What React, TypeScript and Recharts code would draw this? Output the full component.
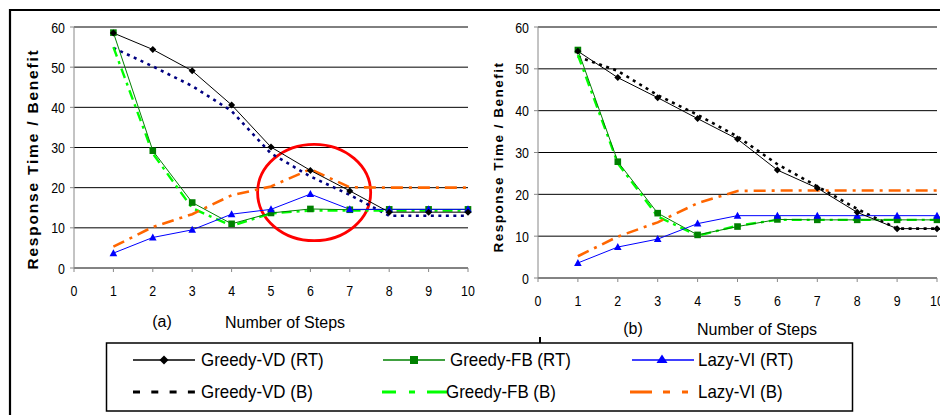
import { LineChart, Line, XAxis, YAxis, CartesianGrid, ReferenceArea } from 'recharts'

const steps = [1, 2, 3, 4, 5, 6, 7, 8, 9, 10]
const xTicks = [0, 1, 2, 3, 4, 5, 6, 7, 8, 9, 10]
const yTicks = [0, 10, 20, 30, 40, 50, 60]

// panel (a)
const aGreedyVdRT = [58.5, 54.4, 49.1, 40.6, 30.1, 24.3, 19.2, 13.9, 13.9, 13.9]
const aGreedyVdB = [54.8, 50.2, 45.3, 39.1, 28.5, 22.8, 18.2, 13.0, 13.0, 13.0]
const aGreedyFbRT = [58.6, 29.2, 16.3, 11.0, 13.7, 14.7, 14.5, 14.6, 14.6, 14.6]
const aGreedyFbB = [55.0, 28.5, 14.9, 10.5, 13.6, 14.3, 14.3, 14.3, 14.3, 14.3]
const aLazyViRT = [3.7, 7.6, 9.5, 13.4, 14.6, 18.4, 14.6, 14.6, 14.6, 14.6]
const aLazyViB = [5.3, 10.2, 13.4, 18.1, 20.3, 24.6, 20.1, 20.0, 20.0, 20.0]

// panel (b)
const bGreedyVdRT = [54.2, 47.9, 43.1, 38.1, 33.2, 25.8, 21.5, 15.7, 11.8, 11.8]
const bGreedyVdB = [52.9, 49.5, 43.7, 39.0, 33.8, 27.2, 21.9, 16.5, 11.8, 11.8]
const bGreedyFbRT = [54.5, 27.8, 15.5, 10.3, 12.3, 14.0, 13.9, 13.9, 13.9, 13.9]
const bGreedyFbB = [53.3, 27.4, 14.7, 10.1, 12.5, 13.9, 13.9, 13.9, 13.9, 13.9]
const bLazyViRT = [3.6, 7.4, 9.3, 13.0, 14.9, 14.9, 14.9, 14.9, 14.9, 14.9]
const bLazyViB = [5.2, 9.9, 13.3, 17.9, 20.8, 20.9, 20.9, 20.9, 20.9, 20.9]

// highlighted region in panel (a): [x1, x2, y1, y2]
const highlight = [4.66, 7.53, 6.8, 30.8]

const legendRT = ['Greedy-VD (RT)', 'Greedy-FB (RT)', 'Lazy-VI (RT)']
const legendB = ['Greedy-VD (B)', 'Greedy-FB (B)', 'Lazy-VI (B)']

const build = (vdRT: number[], vdB: number[], fbRT: number[], fbB: number[], lvRT: number[], lvB: number[]) =>
  steps.map((step, i) => ({
    step,
    vdRT: vdRT[i],
    vdB: vdB[i],
    fbRT: fbRT[i],
    fbB: fbB[i],
    lvRT: lvRT[i],
    lvB: lvB[i],
  }))

const dataA = build(aGreedyVdRT, aGreedyVdB, aGreedyFbRT, aGreedyFbB, aLazyViRT, aLazyViB)
const dataB = build(bGreedyVdRT, bGreedyVdB, bGreedyFbRT, bGreedyFbB, bLazyViRT, bLazyViB)

const SANS = "'Liberation Sans', Arial, sans-serif"

// tick text squeezed horizontally, like the old narrow chart font
const xTick = (p: any) => (
  <text transform={`translate(${p.x},${p.y}) scale(0.8,1)`} textAnchor="middle" dy="0.71em" fontSize={15.5} fontFamily={SANS} fill="#000">
    {p.payload.value}
  </text>
)
const yTick = (p: any) => (
  <text transform={`translate(${p.x},${p.y}) scale(0.8,1)`} textAnchor="end" dy="0.355em" fontSize={15.5} fontFamily={SANS} fill="#000">
    {p.payload.value}
  </text>
)

const diamond = (p: any) => {
  const { cx, cy, index } = p
  return <path key={`dm-${index}`} d={`M${cx},${cy - 3.5}L${cx + 3.5},${cy}L${cx},${cy + 3.5}L${cx - 3.5},${cy}Z`} fill="#000" />
}
const square = (p: any) => {
  const { cx, cy, index } = p
  return <rect key={`sq-${index}`} x={cx - 3.3} y={cy - 3.3} width={6.6} height={6.6} fill="#008000" />
}
const triangle = (p: any) => {
  const { cx, cy, index } = p
  return <path key={`tr-${index}`} d={`M${cx},${cy - 4}L${cx + 3.8},${cy + 3}L${cx - 3.8},${cy + 3}Z`} fill="#0000FF" />
}

interface PanelProps {
  data: any[]
  left: number
  width: number
  axisWidth: number
  bottom: number
  right: number
  vdBColor: string
  circle?: boolean
}

function Panel({ data, left, width, axisWidth, bottom, right, vdBColor, circle }: PanelProps) {
  return (
    <div style={{ position: 'absolute', left, top: 0 }}>
      <LineChart width={width} height={340} data={data} margin={{ top: 27, right, bottom, left: 0 }}>
        <CartesianGrid vertical={false} stroke="#000" strokeWidth={1} />
        <XAxis
          dataKey="step"
          type="number"
          domain={[0, 10]}
          ticks={xTicks}
          interval={0}
          height={40}
          stroke="#888"
          tickSize={4}
          tickMargin={13}
          tick={xTick}
        />
        <YAxis
          type="number"
          domain={[0, 60]}
          ticks={yTicks}
          interval={0}
          width={axisWidth}
          stroke="#888"
          tickSize={4}
          tickMargin={5}
          tick={yTick}
        />
        <Line dataKey="vdB" stroke={vdBColor} strokeWidth={2.6} strokeDasharray="3 4.5" dot={false} isAnimationActive={false} />
        <Line dataKey="fbB" stroke="#00FF00" strokeWidth={2.4} strokeDasharray="10 5 3 5" dot={false} isAnimationActive={false} />
        <Line dataKey="lvB" stroke="#FF6600" strokeWidth={2.6} strokeDasharray="12 6 3 6" dot={false} isAnimationActive={false} />
        <Line dataKey="fbRT" stroke="#008000" strokeWidth={1} dot={square} isAnimationActive={false} />
        <Line dataKey="lvRT" stroke="#0000FF" strokeWidth={1} dot={triangle} isAnimationActive={false} />
        <Line dataKey="vdRT" stroke="#000" strokeWidth={1} dot={diamond} isAnimationActive={false} />
        {circle && (
          <ReferenceArea
            x1={highlight[0]}
            x2={highlight[1]}
            y1={highlight[2]}
            y2={highlight[3]}
            shape={(p: any) => (
              <ellipse
                cx={p.x + p.width / 2}
                cy={p.y + p.height / 2}
                rx={p.width / 2}
                ry={p.height / 2}
                fill="none"
                stroke="#FF0000"
                strokeWidth={2.8}
              />
            )}
          />
        )}
      </LineChart>
    </div>
  )
}

function Legend() {
  const cols = [133, 383, 632]
  const textX = [201, 450, 698]
  return (
    <g>
      <rect x={106.5} y={343} width={746} height={68} fill="#fff" stroke="#000" strokeWidth={1.5} />
      <line x1={540} y1={337} x2={540} y2={343} stroke="#000" strokeWidth={2} />
      {/* row 1: response time */}
      <line x1={cols[0]} y1={360} x2={cols[0] + 62} y2={360} stroke="#000" strokeWidth={1.3} />
      <path d="M164,355.5L168.5,360L164,364.5L159.5,360Z" fill="#000" />
      <line x1={cols[1]} y1={360} x2={cols[1] + 62} y2={360} stroke="#008000" strokeWidth={1.3} />
      <rect x={410} y={356} width={8} height={8} fill="#008000" />
      <line x1={cols[2]} y1={360} x2={cols[2] + 62} y2={360} stroke="#0000FF" strokeWidth={1.3} />
      <path d="M662,354.5L667.5,363L656.5,363Z" fill="#0000FF" />
      {/* row 2: benefit */}
      <line x1={cols[0]} y1={392} x2={cols[0] + 62} y2={392} stroke="#000" strokeWidth={3} strokeDasharray="7 11.3" />
      <line x1={cols[1] - 1} y1={392} x2={cols[1] + 64} y2={392} stroke="#00FF00" strokeWidth={3} strokeDasharray="14 13 6 12 20" />
      <line x1={cols[2] - 2} y1={392} x2={cols[2] + 56} y2={392} stroke="#FF6600" strokeWidth={3} strokeDasharray="22 11 7 12 6" />
      {legendRT.map((t, i) => (
        <text key={t} x={textX[i]} y={366} fontSize={18} fontFamily={SANS} fill="#000" transform={`translate(${textX[i] * 0.06},0) scale(0.94,1)`}>
          {t}
        </text>
      ))}
      {legendB.map((t, i) => {
        const tx = textX[i] - (i === 1 ? 4 : 0)
        return (
          <text key={t} x={tx} y={398} fontSize={18} fontFamily={SANS} fill="#000" transform={`translate(${tx * 0.06},0) scale(0.94,1)`}>
            {t}
          </text>
        )
      })}
    </g>
  )
}

export default function App() {
  return (
    <div style={{ position: 'absolute', left: 0, top: 0, width: 940, height: 415, background: '#fff', overflow: 'hidden' }}>
      <svg width={940} height={415} style={{ position: 'absolute', left: 0, top: 0 }}>
        <line x1={10} y1={10} x2={940} y2={10} stroke="#000" strokeWidth={2.2} />
        <line x1={10} y1={9} x2={10} y2={415} stroke="#000" strokeWidth={2.2} />
        <text transform="translate(38,159) rotate(-90)" textAnchor="middle" fontSize={15.5} fontWeight="bold" letterSpacing={1.8} fontFamily={SANS}>
          Response Time / Benefit
        </text>
        <text transform="translate(503,157) rotate(-90)" textAnchor="middle" fontSize={13.5} fontWeight="bold" letterSpacing={1.5} fontFamily={SANS}>
          Response Time / Benefit
        </text>
        <text x={162} y={327} textAnchor="middle" fontSize={16} fontFamily={SANS}>(a)</text>
        <text x={285} y={328} textAnchor="middle" fontSize={16} fontFamily={SANS}>Number of Steps</text>
        <text x={633} y={334} textAnchor="middle" fontSize={16} fontFamily={SANS}>(b)</text>
        <text x={757} y={335} textAnchor="middle" fontSize={16} fontFamily={SANS}>Number of Steps</text>
        <Legend />
      </svg>
      <Panel data={dataA} left={0} width={482} axisWidth={74} bottom={32} right={14} vdBColor="#000080" circle />
      <Panel data={dataB} left={470} width={470} axisWidth={68} bottom={22} right={3} vdBColor="#000" />
    </div>
  )
}
